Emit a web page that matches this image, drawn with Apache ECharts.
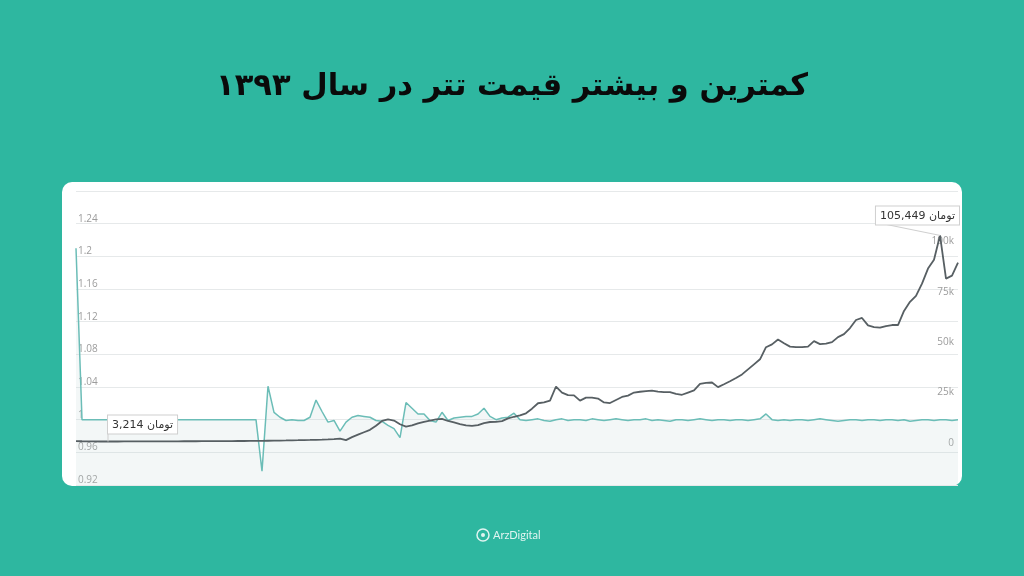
<!DOCTYPE html>
<html>
<head>
<meta charset="utf-8">
<style>
html,body{margin:0;padding:0;background:#2EB7A0;}
#c{width:1024px;height:576px;}
</style>
<script src="https://cdn.jsdelivr.net/npm/echarts@6/dist/echarts.min.js"></script>
</head>
<body>
<div id="c"></div>
<script>
// Tether price in USD (left axis)
const usdtUsd = [
1.21,
1.0,1.0,1.0,1.0,1.0,1.0,1.0,1.0,1.0,1.0,1.0,1.0,1.0,1.0,1.0,1.0,1.0,1.0,1.0,1.0,1.0,1.0,1.0,1.0,1.0,1.0,1.0,1.0,1.0,1.0,
0.937,1.041,1.009,1.003,0.999,1.0,0.999,0.999,1.003,1.024,
1.010,0.997,0.999,0.986,0.997,1.003,1.005,1.004,1.003,0.999,
0.998,0.993,0.989,0.978,1.021,1.014,1.007,1.007,0.999,0.997,
1.009,0.999,1.002,1.003,1.004,1.004,1.007,1.014,1.004,1.0,
1.002,1.003,1.008,1.0,
0.999,1.0,1.001,0.999,0.998,1.0,1.001,0.999,1.0,1.0,
0.999,1.001,1.0,0.999,1.0,1.001,1.0,0.999,1.0,1.0,
1.001,0.999,1.0,0.999,0.998,1.0,1.0,0.999,1.0,1.001,
1.0,0.999,1.0,1.0,0.999,1.0,1.0,0.999,1.0,1.001,
1.007,1.0,0.999,1.0,0.999,1.0,1.0,0.999,1.0,1.001,
1.0,0.999,0.998,0.999,1.0,1.0,0.999,1.0,1.0,0.999,
1.0,1.0,0.999,1.0,0.998,0.999,1.0,1.0,0.999,1.0,
1.0,0.999,1.0
];
// Tether price in toman (right axis)
const usdtToman = [
3420,3350,3300,3260,3230,3214,3220,3230,3240,3250,
3260,3270,3280,3290,3300,3310,3320,3330,3340,3350,
3360,3370,3380,3390,3400,3420,3440,3460,3480,3500,
3530,3560,3600,3640,3690,3740,3800,3860,3930,4000,
4080,4170,4270,4400,4600,3900,5400,6600,7800,9000,
11000,13400,14200,13600,11800,10600,11200,12200,13000,13600,
14200,14400,13400,12700,11900,11200,11000,11300,12300,12900,
13000,13300,14700,15500,16200,17200,19500,22200,22600,23500,
30500,27500,26200,26100,23500,25000,25000,24500,22600,22300,
23800,25300,26000,27500,27900,28200,28500,28000,27700,27700,
26800,26400,27500,28600,31800,32300,32500,30200,31600,33100,
34700,36500,39000,41500,44000,50000,51400,53800,52000,50300,
50000,50000,50300,53000,51500,51800,52500,55000,56500,59500,
63500,64500,60800,60000,59700,60500,61000,61000,68000,72500,
75500,81500,89000,93400,105449,84000,85500,92000
];
const dayLabels = usdtToman.map((_, i) => 'روز ' + (i + 1));
const leftTicks = {min: 0.92, max: 1.28, step: 0.04};
const rightTicks = {min: 0, max: 125000, step: 25000};
const titleText = 'کمترین و بیشتر قیمت تتر در سال ۱۳۹۳';
const unitText = 'تومان';

const chart = echarts.init(document.getElementById('c'));
const option = {
  backgroundColor: '#2EB7A0',
  animation: false,
  title: {
    text: titleText, left: 'center', top: 67,
    textStyle: {fontFamily: 'DejaVu Sans', fontWeight: 'bold', fontSize: 30.5, color: '#0A0A0A'}
  },
  grid: [
    {left: 76, right: 66, top: 191, bottom: 91},
    {left: 76, right: 66, top: 196, bottom: 128}
  ],
  xAxis: [
    {type: 'category', gridIndex: 0, data: dayLabels, boundaryGap: false, show: false},
    {type: 'category', gridIndex: 1, data: dayLabels, boundaryGap: false, show: false}
  ],
  yAxis: [
    {type: 'value', gridIndex: 0, min: leftTicks.min, max: leftTicks.max, interval: leftTicks.step,
     axisLine: {show: false}, axisTick: {show: false},
     splitLine: {lineStyle: {color: '#E6E9EA', width: 1}},
     axisLabel: {inside: true, margin: 2, verticalAlign: 'bottom', color: '#9C9C9C', fontSize: 10,
       fontFamily: 'Open Sans',
       formatter: v => Math.abs(v - leftTicks.max) < 1e-6 ? '' : String(+v.toFixed(2))}},
    {type: 'value', gridIndex: 1, position: 'right', min: rightTicks.min, max: rightTicks.max, interval: rightTicks.step,
     axisLine: {show: false}, axisTick: {show: false}, splitLine: {show: false},
     axisLabel: {inside: true, margin: 4, verticalAlign: 'bottom', color: '#9C9C9C', fontSize: 10,
       fontFamily: 'Open Sans',
       formatter: v => v >= rightTicks.max ? '' : (v === 0 ? '0' : (v / 1000) + 'k')}}
  ],
  series: [
    {type: 'line', xAxisIndex: 0, yAxisIndex: 0, data: usdtUsd, symbol: 'none',
     lineStyle: {color: '#6BBDB7', width: 1.5},
     areaStyle: {color: 'rgba(190,215,210,0.27)', origin: 'start'}, z: 2},
    {type: 'line', xAxisIndex: 1, yAxisIndex: 1, data: usdtToman, symbol: 'none',
     lineStyle: {color: '#575F63', width: 1.8}, z: 3}
  ],
  graphic: []
};

function baseGraphics() {
  return [
    {id: 'card', type: 'rect', z: -100, shape: {x: 62, y: 182, width: 900, height: 304, r: 10},
     style: {fill: '#ffffff'}},
    {id: 'logoRing', type: 'circle', shape: {cx: 483, cy: 535, r: 6},
     style: {fill: 'none', stroke: 'rgba(255,255,255,0.85)', lineWidth: 1.5}},
    {id: 'logoDot', type: 'circle', shape: {cx: 483, cy: 535, r: 2},
     style: {fill: 'rgba(255,255,255,0.85)'}},
    {id: 'logoText', type: 'text', x: 493, y: 535,
     style: {text: 'ArzDigital', fill: 'rgba(255,255,255,0.85)', fontSize: 11, fontFamily: 'Lato',
       verticalAlign: 'middle', textAlign: 'left'}}
  ];
}
option.graphic = baseGraphics();
chart.setOption(option);

// annotation boxes for the minimum and maximum toman prices
const minV = Math.min(...usdtToman), maxV = Math.max(...usdtToman);
const minI = usdtToman.indexOf(minV), maxI = usdtToman.indexOf(maxV);
const pMin = chart.convertToPixel({xAxisIndex: 1, yAxisIndex: 1}, [minI, minV]);
const pMax = chart.convertToPixel({xAxisIndex: 1, yAxisIndex: 1}, [maxI, maxV]);
const boxStyle = (txt) => ({text: txt, fill: '#333', fontSize: 11, fontFamily: 'DejaVu Sans',
  backgroundColor: '#fff', borderColor: '#CFCFCF', borderWidth: 1, padding: [4, 4, 3, 4]});
const g = baseGraphics();
g.push(
  {id: 'minLead', type: 'line', shape: {x1: pMin[0] + 2, y1: pMin[1], x2: pMin[0] + 2, y2: pMin[1] - 8},
   style: {stroke: '#CFCFCF', lineWidth: 1}, z: 10},
  {id: 'minBox', type: 'text', x: pMin[0] + 2, y: pMin[1] - 8, z: 11,
   style: Object.assign(boxStyle(minV.toLocaleString('en-US') + ' ' + unitText), {textAlign: 'left', verticalAlign: 'bottom'})},
  {id: 'maxLead', type: 'line', shape: {x1: pMax[0] - 54, y1: pMax[1] - 11, x2: pMax[0], y2: pMax[1]},
   style: {stroke: '#CFCFCF', lineWidth: 1}, z: 10},
  {id: 'maxBox', type: 'text', x: pMax[0] + 19, y: pMax[1] - 11, z: 11,
   style: Object.assign(boxStyle(maxV.toLocaleString('en-US') + ' ' + unitText), {textAlign: 'right', verticalAlign: 'bottom'})}
);
chart.setOption({graphic: g});
</script>
</body>
</html>
